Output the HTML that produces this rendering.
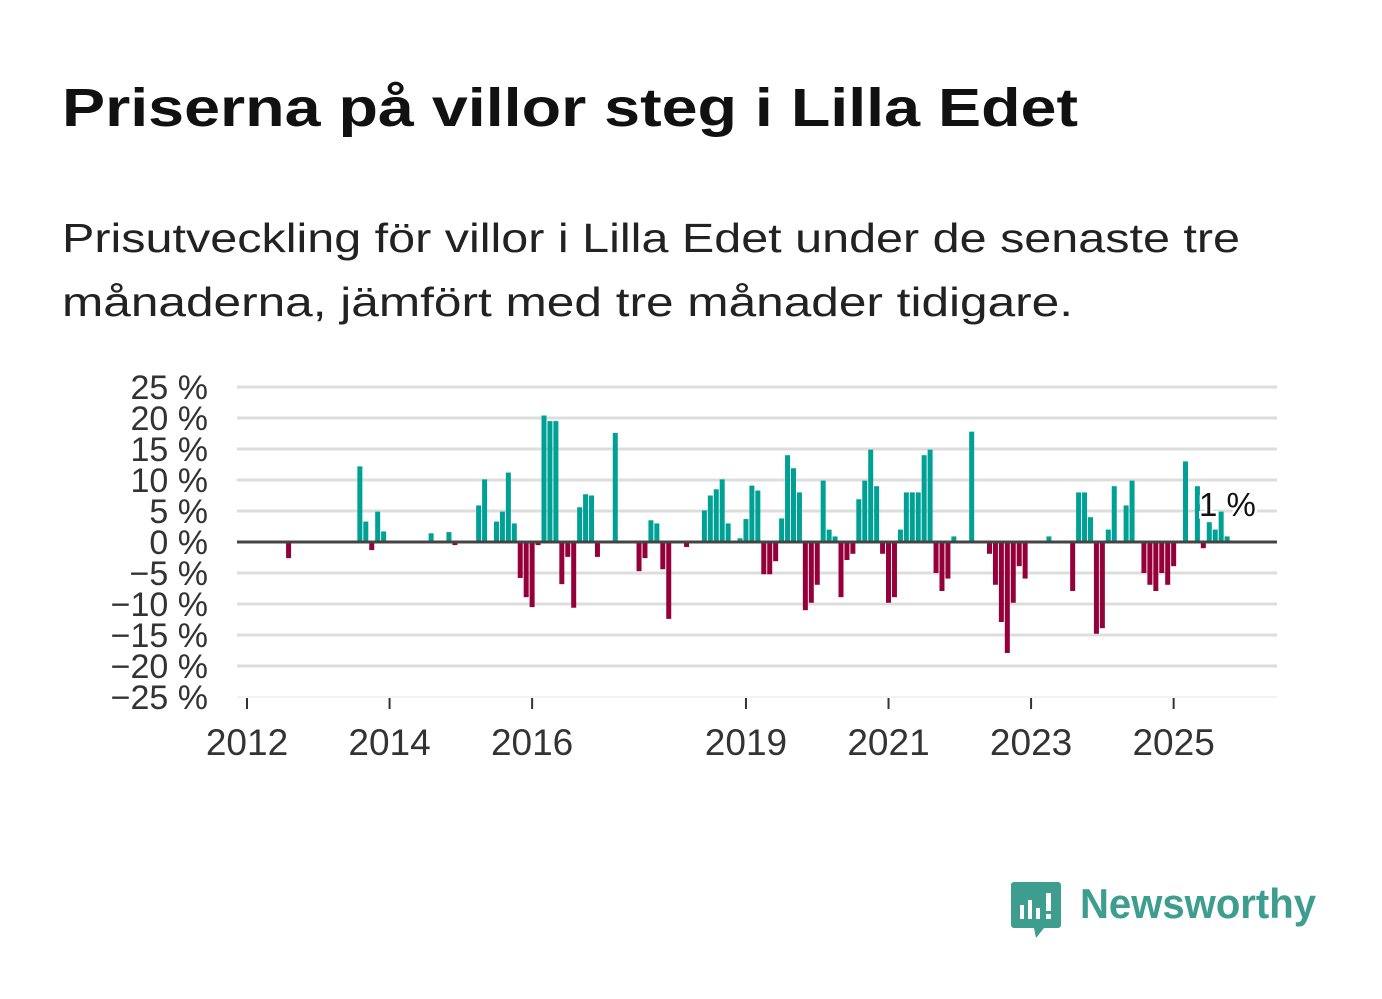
<!DOCTYPE html>
<html><head><meta charset="utf-8"><style>
body{margin:0;background:#fff;}
svg{display:block;font-family:"Liberation Sans",sans-serif;}
</style></head><body>
<svg width="1382" height="999" viewBox="0 0 1382 999">
<text x="62" y="126" font-size="54" font-weight="bold" fill="#111" textLength="1016" lengthAdjust="spacingAndGlyphs">Priserna på villor steg i Lilla Edet</text>
<text x="62" y="252" font-size="41" fill="#222" textLength="1178" lengthAdjust="spacingAndGlyphs">Prisutveckling för villor i Lilla Edet under de senaste tre</text>
<text x="62" y="316" font-size="41" fill="#222" textLength="1011" lengthAdjust="spacingAndGlyphs">månaderna, jämfört med tre månader tidigare.</text>
<g id="grid"></g>
<g id="yl"></g>
<g id="bars"></g>
<g id="xa"></g>
<g id="ann"></g>
<g>
<path d="M1014 882 h44 a3 3 0 0 1 3 3 v40 a3 3 0 0 1 -3 3 h-14 l-8 10 l-2 -10 h-20 a3 3 0 0 1 -3 -3 v-40 a3 3 0 0 1 3 -3z" fill="#3d9d8f"/>
<rect x="1020" y="905" width="4" height="14" fill="#fff"/><rect x="1028" y="900" width="4" height="19" fill="#fff"/><rect x="1036" y="908" width="4" height="11" fill="#fff"/><rect x="1046" y="893" width="5" height="18" fill="#fff"/><rect x="1046" y="914" width="5" height="5" fill="#fff"/>
<text x="1080" y="918" font-size="42" font-weight="bold" fill="#3d9d8f" textLength="236" lengthAdjust="spacingAndGlyphs">Newsworthy</text>
</g>
</svg>
<script>
const monthIdx=[7,19,20,21,22,23,31,34,35,39,40,42,43,44,45,46,47,48,49,50,51,52,53,54,55,56,57,58,59,62,66,67,68,69,70,71,74,77,78,79,80,81,83,84,85,86,87,88,89,90,91,92,93,94,95,96,97,98,99,100,101,102,103,104,105,106,107,108,109,110,111,112,113,114,115,116,117,118,119,122,125,126,127,128,129,130,131,135,139,140,141,142,143,144,145,146,148,149,151,152,153,154,155,156,158,160,161,162,163,164,165];
const values=[-2.6,12.2,3.3,-1.3,4.9,1.7,1.4,1.6,-0.5,5.9,10.1,3.3,4.9,11.2,3.0,-5.8,-8.9,-10.5,-0.5,20.4,19.5,19.5,-6.8,-2.4,-10.6,5.6,7.7,7.5,-2.4,17.6,-4.7,-2.6,3.5,3.0,-4.4,-12.4,-0.8,5.1,7.5,8.5,10.1,3.0,0.6,3.7,9.1,8.3,-5.2,-5.2,-3.1,3.8,14.0,11.9,8.0,-11.0,-9.8,-6.9,9.9,2.0,0.9,-8.9,-2.9,-1.9,6.9,9.9,14.9,9.0,-1.9,-9.8,-8.9,2.0,8.0,8.0,8.0,14.0,14.9,-5.0,-7.9,-5.9,0.9,17.8,-1.9,-6.9,-12.9,-17.9,-9.8,-3.9,-5.9,0.9,-7.9,8.0,8.0,4.0,-14.8,-13.9,2.0,9.0,5.9,9.9,-5.0,-6.9,-7.9,-5.0,-6.9,-3.9,13.0,9.0,-1.0,3.2,2.0,4.9,0.9];
const yTicks=[25,20,15,10,5,0,-5,-10,-15,-20,-25];
const xYears=[2012,2014,2016,2019,2021,2023,2025];
const lastLabel="1 %";
const NS="http://www.w3.org/2000/svg";
const y=v=>542-v*6.2;
const x=m=>247+m*5.94;
function mk(t,a,p){const e=document.createElementNS(NS,t);for(const k in a)e.setAttribute(k,a[k]);p.appendChild(e);return e;}
const grid=document.getElementById('grid'),yl=document.getElementById('yl'),bars=document.getElementById('bars'),xa=document.getElementById('xa'),ann=document.getElementById('ann');
yTicks.forEach(v=>{
  if(v!==0&&v!==-25){const l=mk('line',{x1:237,x2:1277,y1:y(v),y2:y(v),stroke:'#dddddd','stroke-width':3},grid);
  
  }
  const t=mk('text',{x:208,y:y(v)+12,'font-size':34,fill:'#333','text-anchor':'end'},yl);
  t.textContent=(v<0?'\u2212'+(-v):v)+' %';
  
  
});
const base=mk('line',{x1:237,x2:1277,y1:y(-25),y2:y(-25),stroke:'#e6e6e6','stroke-width':1},grid);


monthIdx.forEach((m,i)=>{
  const v=values[i];
  const r=mk('rect',{x:x(m)-2.5,width:5,y:v>=0?y(v):y(0),height:Math.abs(v)*6.2,fill:v>=0?'#00a195':'#95003a'},bars);
  
  
});
const z=mk('line',{x1:237,x2:1277,y1:y(0),y2:y(0),stroke:'#444','stroke-width':3},bars);


xYears.forEach(yr=>{
  const px=x((yr-2012)*12);
  const tk=mk('line',{x1:px,x2:px,y1:698,y2:709,stroke:'#333','stroke-width':2},xa);
  
  
  const t=mk('text',{x:px,y:755,'font-size':37,fill:'#333','text-anchor':'middle'},xa);
  t.textContent=yr;
  
  
});
const lt=mk('text',{x:1199,y:516,'font-size':33,fill:'#111',stroke:'#fff','stroke-width':5,'paint-order':'stroke'},ann);
lt.textContent=lastLabel;


</script>
</body></html>
